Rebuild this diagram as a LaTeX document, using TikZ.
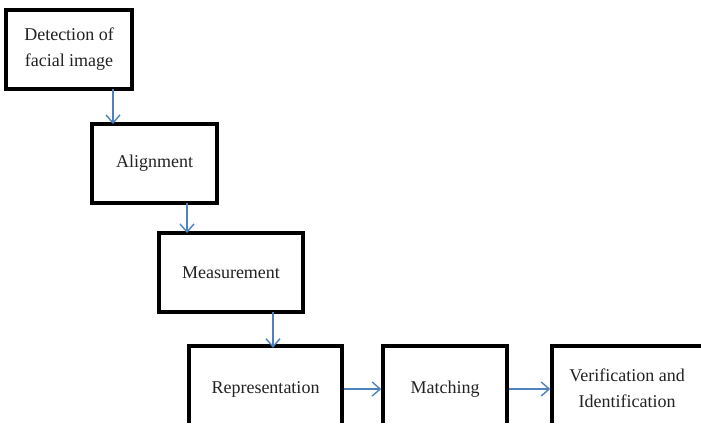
\documentclass[tikz,border=0pt]{standalone}
\usepackage{fontspec}
\setmainfont{Liberation Serif}
\usetikzlibrary{arrows.meta,calc}
\definecolor{flowblue}{RGB}{79,129,189}
\definecolor{inkgray}{RGB}{34,34,34}
\begin{document}
\begin{tikzpicture}[x=1pt,y=-1pt,
  stagebox/.style={draw=black, line width=3.5pt, fill=white, text=inkgray,
    align=center, inner sep=0pt, outer sep=0pt,
    font=\fontsize{18}{26}\selectfont},
  openbox/.style={line width=3.5pt, line join=miter},
  flow/.style={draw=flowblue, line width=1.4pt,
    -{Straight Barb[length=8pt,width=14pt,line width=1.4pt]}}]
\useasboundingbox (0,0) rectangle (701,423);

% staircase of processing stages
\node[stagebox, minimum width=126pt, minimum height=79pt] (detect) at (69,49.5) {Detection of\\facial image};
\node[stagebox, minimum width=125pt, minimum height=79pt] (align) at (154.5,163.5) {Alignment};
\node[stagebox, minimum width=144pt, minimum height=79pt] (measure) at (231,272.5) {Measurement};

% bottom row: boxes open towards the lower and right edges
\node[text=inkgray, font=\fontsize{18}{26}\selectfont, minimum width=153pt, minimum height=86pt, inner sep=0pt, outer sep=0pt] (repr) at (265.5,389) {Representation};
\node[text=inkgray, font=\fontsize{18}{26}\selectfont, minimum width=124pt, minimum height=86pt, inner sep=0pt, outer sep=0pt] (match) at (445,389) {Matching};
\node[minimum width=149pt, minimum height=86pt, inner sep=0pt, outer sep=0pt] (verify) at (626.5,389) {};
\node[text=inkgray, align=center, font=\fontsize{18}{26}\selectfont] (verifytext) at (627,388) {Verification and\\Identification};
\coordinate (floor) at (0,423);
\draw[openbox] (repr.west |- floor) -- (repr.north west) -- (repr.north east) -- (repr.east |- floor);
\draw[openbox] (match.west |- floor) -- (match.north west) -- (match.north east) -- (match.east |- floor);
\draw[openbox] (verify.west |- floor) -- (verify.north west) -- (verify.north east);

% connectors
\draw[flow] ([xshift=44pt]detect.south) -- ([xshift=44pt]detect.south |- align.north);
\draw[flow] ([xshift=32.5pt]align.south) -- ([xshift=32.5pt]align.south |- measure.north);
\draw[flow] ([xshift=42pt]measure.south) -- ([xshift=42pt,yshift=-1.75pt]measure.south |- repr.north);
\draw[flow] ([xshift=1.75pt]repr.east) -- ([xshift=-1.75pt]match.west);
\draw[flow] ([xshift=1.75pt]match.east) -- ([xshift=-1.75pt]verify.west);
\end{tikzpicture}
\end{document}
